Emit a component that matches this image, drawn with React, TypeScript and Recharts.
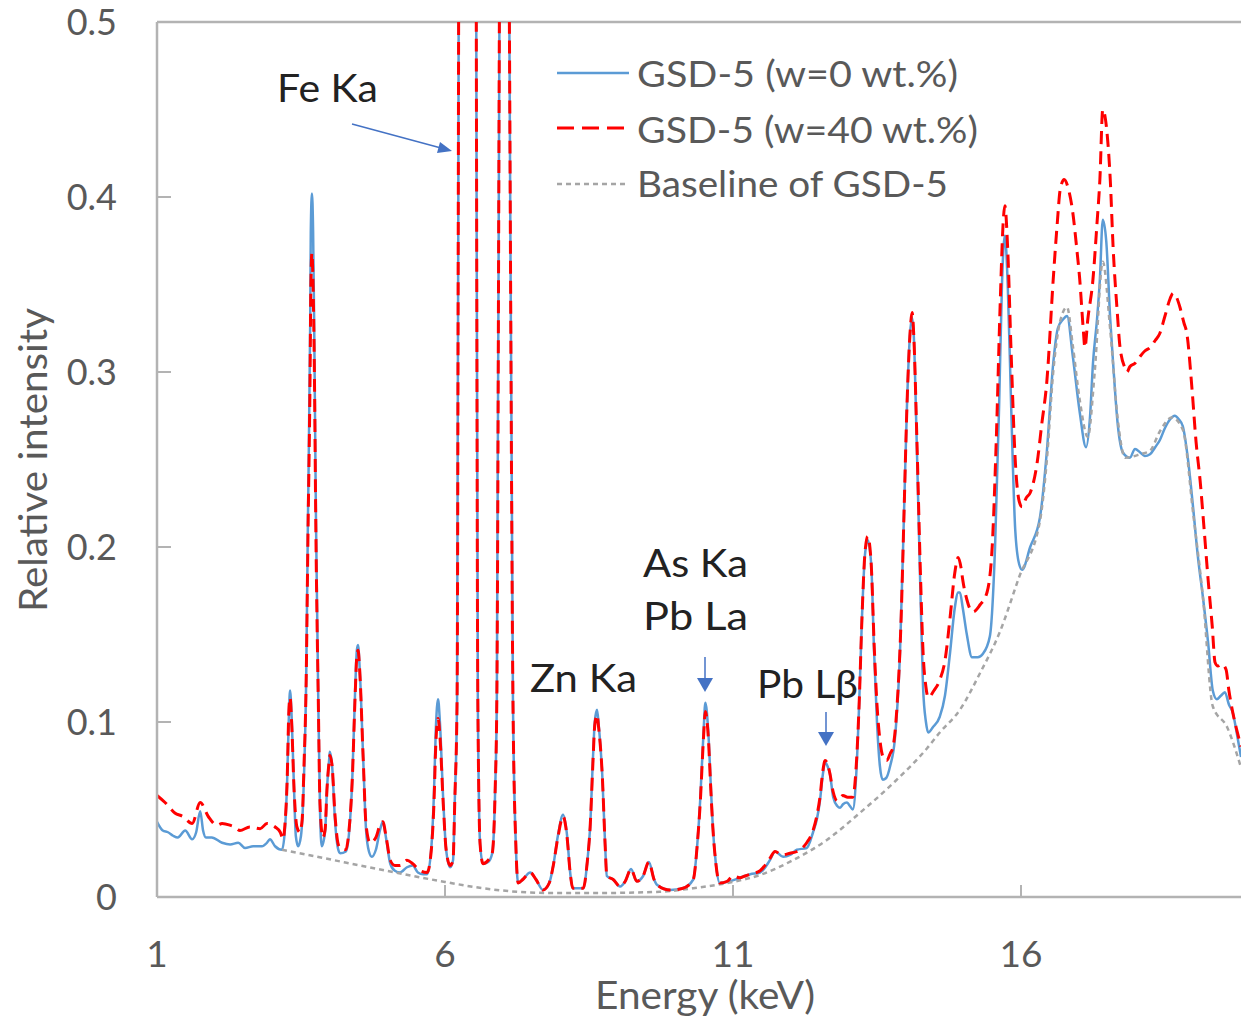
import { LineChart, Line, XAxis, YAxis, ReferenceLine } from 'recharts'

// energy (keV), relative intensity
const GSD5_W0: [number, number][] = [
  [1.00, 0.043], [1.10, 0.038], [1.19, 0.037], [1.28, 0.035], [1.36, 0.034], [1.49, 0.038], [1.61, 0.033],
  [1.68, 0.037], [1.75, 0.049], [1.80, 0.038], [1.85, 0.034], [1.95, 0.034], [2.13, 0.031], [2.27, 0.030],
  [2.41, 0.031], [2.53, 0.028], [2.67, 0.029], [2.82, 0.029], [2.91, 0.031], [2.96, 0.033], [3.05, 0.029],
  [3.17, 0.027], [3.22, 0.038], [3.26, 0.067], [3.29, 0.104], [3.31, 0.118], [3.34, 0.101], [3.38, 0.061],
  [3.41, 0.035], [3.45, 0.029], [3.50, 0.035], [3.55, 0.067], [3.59, 0.124], [3.62, 0.215], [3.66, 0.329],
  [3.67, 0.380], [3.69, 0.402], [3.71, 0.381], [3.73, 0.323], [3.76, 0.215], [3.80, 0.113], [3.83, 0.050],
  [3.86, 0.029], [3.92, 0.038], [3.95, 0.061], [3.99, 0.079], [4.00, 0.083], [4.04, 0.075], [4.09, 0.044],
  [4.14, 0.028], [4.18, 0.025], [4.28, 0.026], [4.33, 0.035], [4.39, 0.067], [4.44, 0.118], [4.47, 0.141],
  [4.49, 0.144], [4.52, 0.130], [4.58, 0.079], [4.63, 0.038], [4.68, 0.026], [4.73, 0.023], [4.80, 0.027],
  [4.87, 0.038], [4.92, 0.043], [4.98, 0.033], [5.05, 0.019], [5.13, 0.015], [5.22, 0.014], [5.34, 0.017],
  [5.44, 0.018], [5.53, 0.014], [5.62, 0.013], [5.69, 0.013], [5.76, 0.027], [5.81, 0.061], [5.84, 0.095],
  [5.88, 0.113], [5.91, 0.101], [5.97, 0.055], [6.02, 0.027], [6.09, 0.017], [6.14, 0.021], [6.17, 0.055],
  [6.21, 0.113], [6.24, 0.55], [6.31, 1.5], [6.39, 2.0], [6.47, 1.5], [6.54, 0.55], [6.57, 0.113],
  [6.61, 0.030], [6.66, 0.019], [6.75, 0.020], [6.82, 0.025], [6.87, 0.060], [6.90, 0.113], [6.95, 0.55],
  [7.03, 1.0], [7.11, 0.55], [7.18, 0.113], [7.23, 0.030], [7.27, 0.008], [7.35, 0.010], [7.48, 0.014],
  [7.58, 0.010], [7.70, 0.004], [7.81, 0.008], [7.88, 0.018], [7.96, 0.035], [8.05, 0.047], [8.12, 0.035],
  [8.17, 0.015], [8.22, 0.005], [8.40, 0.005], [8.47, 0.020], [8.52, 0.040], [8.57, 0.080], [8.60, 0.100],
  [8.64, 0.107], [8.67, 0.098], [8.73, 0.070], [8.78, 0.030], [8.81, 0.012], [8.92, 0.010], [9.04, 0.006],
  [9.13, 0.009], [9.23, 0.016], [9.33, 0.009], [9.44, 0.012], [9.54, 0.020], [9.63, 0.010], [9.68, 0.007],
  [9.91, 0.004], [10.13, 0.005], [10.31, 0.010], [10.38, 0.030], [10.43, 0.055], [10.49, 0.095], [10.52, 0.111],
  [10.57, 0.095], [10.62, 0.060], [10.65, 0.040], [10.70, 0.020], [10.77, 0.008], [10.95, 0.009], [11.12, 0.011],
  [11.30, 0.013], [11.47, 0.014], [11.64, 0.021], [11.73, 0.026], [11.87, 0.023], [11.99, 0.024], [12.11, 0.027],
  [12.28, 0.028], [12.39, 0.037], [12.46, 0.045], [12.51, 0.055], [12.56, 0.070], [12.60, 0.077], [12.65, 0.074],
  [12.68, 0.071], [12.74, 0.057], [12.81, 0.052], [12.86, 0.051], [12.91, 0.053], [12.98, 0.054], [13.03, 0.052],
  [13.08, 0.050], [13.14, 0.070], [13.19, 0.110], [13.24, 0.160], [13.29, 0.195], [13.34, 0.204], [13.40, 0.190],
  [13.45, 0.140], [13.50, 0.100], [13.55, 0.075], [13.60, 0.067], [13.66, 0.068], [13.73, 0.075], [13.81, 0.090],
  [13.90, 0.140], [13.97, 0.220], [14.02, 0.280], [14.07, 0.320], [14.11, 0.331], [14.14, 0.320], [14.19, 0.260],
  [14.25, 0.180], [14.30, 0.120], [14.35, 0.100], [14.39, 0.094], [14.47, 0.097], [14.59, 0.103], [14.68, 0.115],
  [14.77, 0.140], [14.85, 0.165], [14.91, 0.174], [14.94, 0.174], [14.99, 0.165], [15.06, 0.150], [15.15, 0.137],
  [15.25, 0.137], [15.34, 0.139], [15.46, 0.149], [15.55, 0.200], [15.62, 0.280], [15.67, 0.350], [15.72, 0.378],
  [15.77, 0.350], [15.83, 0.280], [15.90, 0.210], [15.97, 0.190], [16.02, 0.187], [16.16, 0.200], [16.33, 0.217],
  [16.45, 0.255], [16.56, 0.305], [16.64, 0.325], [16.73, 0.330], [16.80, 0.332], [16.90, 0.309], [17.02, 0.277],
  [17.13, 0.257], [17.20, 0.275], [17.25, 0.305], [17.32, 0.330], [17.37, 0.353], [17.42, 0.387], [17.48, 0.375],
  [17.55, 0.330], [17.60, 0.305], [17.68, 0.270], [17.77, 0.254], [17.89, 0.251], [17.98, 0.256], [18.07, 0.254],
  [18.15, 0.252], [18.24, 0.253], [18.33, 0.257], [18.41, 0.261], [18.50, 0.268], [18.59, 0.273], [18.67, 0.275],
  [18.74, 0.273], [18.81, 0.269], [18.90, 0.250], [18.99, 0.222], [19.07, 0.195], [19.16, 0.171], [19.25, 0.145],
  [19.33, 0.118], [19.40, 0.113], [19.47, 0.115], [19.54, 0.117], [19.61, 0.110], [19.68, 0.105], [19.75, 0.093],
  [19.82, 0.080],
]

const GSD5_W40: [number, number][] = [
  [1.00, 0.058], [1.14, 0.054], [1.31, 0.048], [1.45, 0.046], [1.61, 0.042], [1.75, 0.054], [1.89, 0.046],
  [2.04, 0.041], [2.13, 0.042], [2.27, 0.041], [2.35, 0.040], [2.44, 0.038], [2.61, 0.040], [2.79, 0.039],
  [2.91, 0.042], [3.05, 0.040], [3.14, 0.037], [3.19, 0.033], [3.22, 0.041], [3.26, 0.067], [3.29, 0.107],
  [3.31, 0.114], [3.34, 0.098], [3.38, 0.061], [3.43, 0.040], [3.48, 0.037], [3.52, 0.044], [3.55, 0.073],
  [3.59, 0.124], [3.62, 0.204], [3.66, 0.307], [3.67, 0.347], [3.69, 0.368], [3.71, 0.349], [3.73, 0.307],
  [3.76, 0.204], [3.80, 0.113], [3.83, 0.053], [3.88, 0.034], [3.92, 0.039], [3.95, 0.061], [3.99, 0.078],
  [4.00, 0.081], [4.04, 0.075], [4.09, 0.047], [4.14, 0.031], [4.18, 0.028], [4.28, 0.027], [4.33, 0.037],
  [4.39, 0.067], [4.44, 0.115], [4.47, 0.138], [4.49, 0.141], [4.52, 0.129], [4.58, 0.079], [4.63, 0.041],
  [4.70, 0.031], [4.80, 0.034], [4.87, 0.041], [4.92, 0.043], [4.98, 0.034], [5.05, 0.021], [5.13, 0.018],
  [5.22, 0.018], [5.34, 0.021], [5.44, 0.019], [5.57, 0.015], [5.69, 0.014], [5.76, 0.026], [5.81, 0.055],
  [5.84, 0.087], [5.88, 0.102], [5.91, 0.093], [5.97, 0.053], [6.02, 0.027], [6.09, 0.018], [6.14, 0.021],
  [6.17, 0.055], [6.21, 0.113], [6.24, 0.55], [6.31, 1.5], [6.39, 2.0], [6.47, 1.5], [6.54, 0.55],
  [6.57, 0.113], [6.61, 0.030], [6.66, 0.019], [6.75, 0.021], [6.82, 0.025], [6.87, 0.060], [6.90, 0.113],
  [6.95, 0.55], [7.03, 1.0], [7.11, 0.55], [7.18, 0.113], [7.23, 0.030], [7.27, 0.008], [7.35, 0.010],
  [7.48, 0.014], [7.58, 0.010], [7.70, 0.004], [7.81, 0.008], [7.88, 0.018], [7.96, 0.034], [8.05, 0.046],
  [8.12, 0.034], [8.17, 0.015], [8.22, 0.005], [8.40, 0.005], [8.47, 0.020], [8.52, 0.040], [8.57, 0.078],
  [8.60, 0.098], [8.64, 0.104], [8.67, 0.096], [8.73, 0.070], [8.78, 0.030], [8.81, 0.012], [8.92, 0.010],
  [9.04, 0.006], [9.13, 0.009], [9.23, 0.016], [9.33, 0.009], [9.44, 0.012], [9.54, 0.020], [9.63, 0.010],
  [9.68, 0.007], [9.91, 0.004], [10.13, 0.005], [10.31, 0.010], [10.38, 0.030], [10.43, 0.053], [10.49, 0.092],
  [10.52, 0.106], [10.57, 0.092], [10.62, 0.058], [10.65, 0.040], [10.70, 0.020], [10.77, 0.008], [10.90, 0.009],
  [11.00, 0.012], [11.12, 0.011], [11.21, 0.012], [11.30, 0.013], [11.47, 0.015], [11.64, 0.022], [11.73, 0.026],
  [11.85, 0.024], [11.99, 0.025], [12.11, 0.026], [12.28, 0.031], [12.39, 0.038], [12.46, 0.047], [12.51, 0.057],
  [12.56, 0.072], [12.60, 0.078], [12.65, 0.075], [12.68, 0.071], [12.74, 0.060], [12.81, 0.055], [12.91, 0.058],
  [12.99, 0.057], [13.08, 0.057], [13.14, 0.075], [13.19, 0.110], [13.24, 0.160], [13.29, 0.196], [13.34, 0.206],
  [13.40, 0.190], [13.45, 0.145], [13.50, 0.110], [13.55, 0.090], [13.62, 0.079], [13.67, 0.078], [13.73, 0.082],
  [13.78, 0.086], [13.85, 0.110], [13.92, 0.160], [13.97, 0.220], [14.02, 0.280], [14.07, 0.320], [14.11, 0.334],
  [14.14, 0.320], [14.19, 0.265], [14.25, 0.190], [14.30, 0.140], [14.35, 0.120], [14.39, 0.114], [14.49, 0.118],
  [14.59, 0.124], [14.68, 0.135], [14.77, 0.160], [14.85, 0.185], [14.91, 0.194], [14.96, 0.188], [14.99, 0.181],
  [15.06, 0.170], [15.11, 0.165], [15.17, 0.163], [15.29, 0.167], [15.41, 0.174], [15.50, 0.200], [15.57, 0.260],
  [15.64, 0.340], [15.69, 0.385], [15.72, 0.395], [15.77, 0.370], [15.83, 0.310], [15.90, 0.250], [15.97, 0.226],
  [16.02, 0.223], [16.09, 0.228], [16.16, 0.231], [16.28, 0.248], [16.36, 0.270], [16.45, 0.295], [16.56, 0.353],
  [16.63, 0.385], [16.68, 0.404], [16.75, 0.410], [16.82, 0.405], [16.90, 0.391], [16.97, 0.370], [17.02, 0.353],
  [17.08, 0.325], [17.11, 0.314], [17.16, 0.330], [17.25, 0.353], [17.32, 0.385], [17.37, 0.410], [17.42, 0.450],
  [17.49, 0.438], [17.55, 0.410], [17.60, 0.371], [17.67, 0.335], [17.72, 0.314], [17.81, 0.302], [17.84, 0.300],
  [17.89, 0.303], [17.98, 0.305], [18.07, 0.309], [18.15, 0.312], [18.24, 0.314], [18.33, 0.318], [18.41, 0.322],
  [18.50, 0.332], [18.59, 0.342], [18.64, 0.345], [18.71, 0.342], [18.76, 0.337], [18.83, 0.328], [18.88, 0.322],
  [18.97, 0.290], [19.04, 0.260], [19.11, 0.238], [19.18, 0.210], [19.25, 0.181], [19.32, 0.155], [19.37, 0.134],
  [19.42, 0.132], [19.49, 0.133], [19.56, 0.130], [19.61, 0.118], [19.68, 0.105], [19.75, 0.095], [19.82, 0.086],
]

const GSD5_BASELINE: [number, number][] = [
  [3.17, 0.027], [3.78, 0.023], [4.92, 0.0154], [6.00, 0.0086], [6.66, 0.005], [7.25, 0.003], [7.82, 0.0023],
  [8.69, 0.0023], [9.73, 0.003], [10.31, 0.005], [10.90, 0.008], [11.47, 0.0126], [12.04, 0.021], [12.63, 0.0326],
  [13.20, 0.048], [13.78, 0.065], [14.37, 0.085], [14.59, 0.094], [14.94, 0.107], [15.29, 0.128], [15.64, 0.152],
  [15.97, 0.183], [16.33, 0.215], [16.45, 0.250], [16.56, 0.300], [16.68, 0.329], [16.80, 0.337], [16.90, 0.315],
  [17.02, 0.284], [17.16, 0.263], [17.28, 0.300], [17.42, 0.363], [17.55, 0.324], [17.68, 0.273], [17.81, 0.251],
  [18.07, 0.253], [18.24, 0.255], [18.41, 0.266], [18.62, 0.274], [18.81, 0.267], [18.99, 0.219], [19.16, 0.171],
  [19.33, 0.109], [19.58, 0.097], [19.82, 0.074],
]

const X_TICKS = [1, 6, 11, 16]
const Y_TICKS = [0, 0.1, 0.2, 0.3, 0.4, 0.5]

const toRows = (pts: [number, number][]) => pts.map(([e, v]) => ({ e, v }))

const AXIS = '#b3b3b3'
const TXT = '#595959'
const ARROW = '#4472C4'
const FONT = 'Lato, "Noto Sans", sans-serif'

export default function App() {
  return (
    <div style={{ position: 'fixed', left: 0, top: 0, width: 1241, height: 1017, overflow: 'hidden', background: '#fff' }}>
      <LineChart width={1241} height={1017} margin={{ top: 22, right: 0, bottom: 0, left: 0 }}>
        <XAxis
          type="number"
          dataKey="e"
          domain={[1, 19.82]}
          allowDataOverflow
          ticks={X_TICKS}
          interval={0}
          height={120}
          tickSize={-12}
          tickMargin={56}
          axisLine={{ stroke: AXIS, strokeWidth: 2.5 }}
          tickLine={{ stroke: AXIS, strokeWidth: 2 }}
          tick={{ fontSize: 37, fill: TXT, fontFamily: FONT }}
        />
        <YAxis
          type="number"
          domain={[0, 0.5]}
          allowDataOverflow
          ticks={Y_TICKS}
          interval={0}
          width={157}
          tickSize={-14}
          tickMargin={54}
          axisLine={{ stroke: AXIS, strokeWidth: 2.5 }}
          tickLine={{ stroke: AXIS, strokeWidth: 2 }}
          tick={{ fontSize: 36, fill: TXT, fontFamily: FONT }}
        />
        <ReferenceLine y={0.5} stroke={AXIS} strokeWidth={2.5} />
        <Line data={toRows(GSD5_W0)} dataKey="v" type="monotone" stroke="#5B9BD5" strokeWidth={2.5} dot={false} isAnimationActive={false} />
        <Line data={toRows(GSD5_BASELINE)} dataKey="v" type="monotone" stroke="#A5A5A5" strokeWidth={2.5} strokeDasharray="5 4" dot={false} isAnimationActive={false} />
        <Line data={toRows(GSD5_W40)} dataKey="v" type="monotone" stroke="#FF0000" strokeWidth={3} strokeDasharray="13 7" dot={false} isAnimationActive={false} />
      </LineChart>

      <svg width={1241} height={1017} style={{ position: 'absolute', left: 0, top: 0, pointerEvents: 'none' }}>
        {/* axis titles */}
        <text x={595} y={1009} textLength={220} lengthAdjust="spacingAndGlyphs" fontSize={38} fill={TXT} fontFamily={FONT}>Energy (keV)</text>
        <text transform="translate(47,612) rotate(-90)" textLength={304} lengthAdjust="spacingAndGlyphs" fontSize={38} fill={TXT} fontFamily={FONT}>Relative intensity</text>

        {/* legend */}
        <line x1={557} y1={73} x2={629} y2={73} stroke="#5B9BD5" strokeWidth={2.5} />
        <line x1={557} y1={128} x2={629} y2={128} stroke="#FF0000" strokeWidth={3} strokeDasharray="17 8" />
        <line x1={557} y1={184} x2={629} y2={184} stroke="#A5A5A5" strokeWidth={2.5} strokeDasharray="5 4" />
        <text x={637} y={87} textLength={321} lengthAdjust="spacingAndGlyphs" fontSize={37} fill={TXT} fontFamily={FONT}>GSD-5 (w=0 wt.%)</text>
        <text x={637} y={143} textLength={341} lengthAdjust="spacingAndGlyphs" fontSize={37} fill={TXT} fontFamily={FONT}>GSD-5 (w=40 wt.%)</text>
        <text x={637} y={197} textLength={311} lengthAdjust="spacingAndGlyphs" fontSize={37} fill={TXT} fontFamily={FONT}>Baseline of GSD-5</text>

        {/* peak annotations */}
        <text x={277} y={102} textLength={101} lengthAdjust="spacingAndGlyphs" fontSize={38} fill="#222" fontFamily={FONT}>Fe Ka</text>
        <line x1={352} y1={124} x2={441} y2={148} stroke={ARROW} strokeWidth={1.5} />
        <polygon points="452,151 437,153 440,142" fill={ARROW} />

        <text x={643} y={577} textLength={105} lengthAdjust="spacingAndGlyphs" fontSize={38} fill="#222" fontFamily={FONT}>As Ka</text>
        <text x={643} y={630} textLength={105} lengthAdjust="spacingAndGlyphs" fontSize={38} fill="#222" fontFamily={FONT}>Pb La</text>
        <line x1={705} y1={657} x2={705} y2={680} stroke={ARROW} strokeWidth={1.5} />
        <polygon points="697,678 713,678 705,692" fill={ARROW} />

        <text x={530} y={692} textLength={107} lengthAdjust="spacingAndGlyphs" fontSize={38} fill="#222" fontFamily={FONT}>Zn Ka</text>

        <text x={757} y={698} textLength={101} lengthAdjust="spacingAndGlyphs" fontSize={38} fill="#222" fontFamily={FONT}>Pb Lβ</text>
        <line x1={826} y1={712} x2={826} y2={734} stroke={ARROW} strokeWidth={1.5} />
        <polygon points="818,732 834,732 826,746" fill={ARROW} />
      </svg>
    </div>
  )
}
